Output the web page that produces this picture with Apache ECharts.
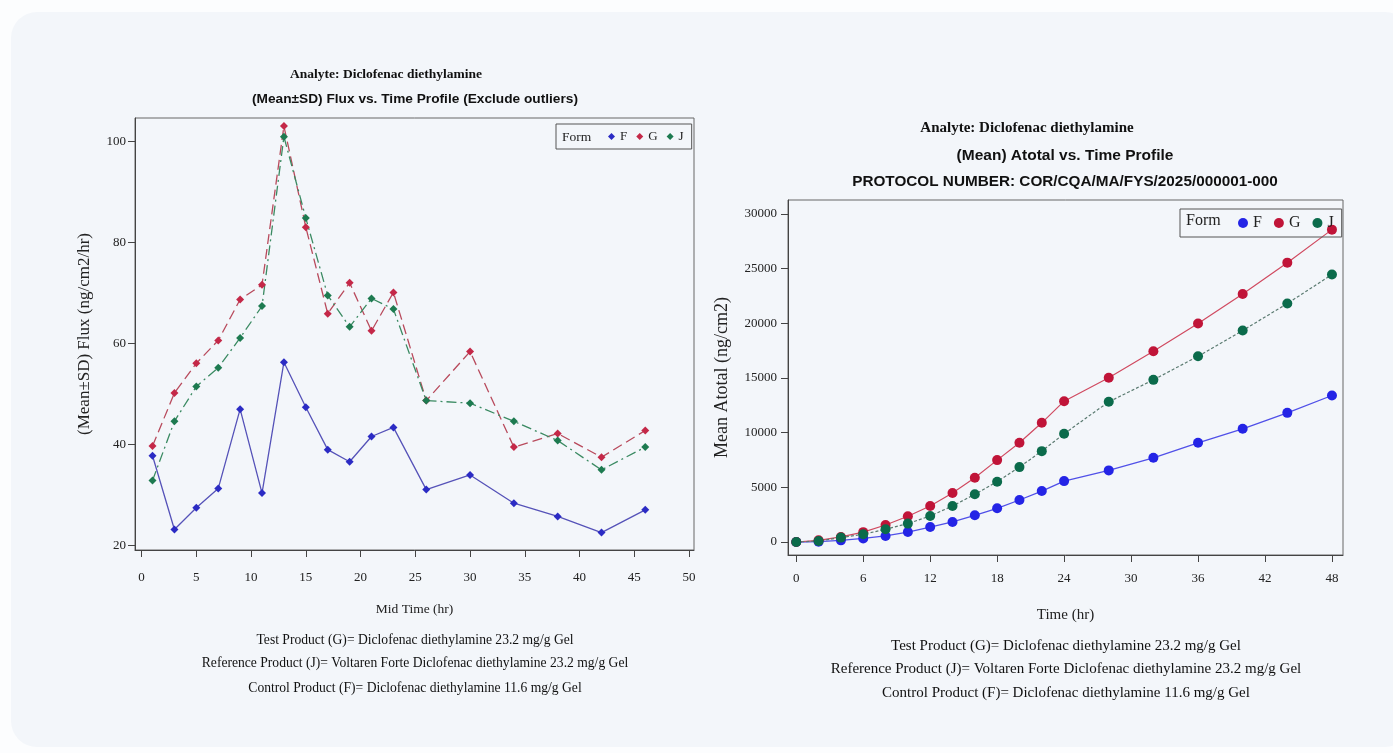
<!DOCTYPE html>
<html>
<head>
<meta charset="utf-8">
<script src="https://cdn.jsdelivr.net/npm/echarts@6/dist/echarts.min.js"></script>
<style>
  html, body { margin:0; padding:0; background:#fcfdfe; }
  #card { position:absolute; left:11px; top:12px; width:1400px; height:735px; background:#f3f6fa; border-radius:26px; }
  #chart { position:absolute; left:0; top:0; width:1393px; height:753px; }
</style>
</head>
<body>
<div id="card"></div>
<div id="chart"></div>
<script>
// ---- Left chart data: Flux vs Mid Time ----
const leftTime = [1,3,5,7,9,11,13,15,17,19,21,23,26,30,34,38,42,46];
const fluxF = [37.8,23.2,27.5,31.3,47.0,30.4,56.3,47.4,39.0,36.6,41.6,43.4,31.1,34.0,28.4,25.8,22.6,27.1];
const fluxG = [39.7,50.2,56.1,60.6,68.7,71.6,103.0,83.0,65.9,72.0,62.5,70.1,48.7,58.4,39.5,42.2,37.5,42.8];
const fluxJ = [32.9,44.6,51.5,55.2,61.1,67.4,100.9,84.8,69.5,63.3,68.9,66.8,48.7,48.2,44.6,40.8,35.0,39.5];
const leftXTicks = [0,5,10,15,20,25,30,35,40,45,50];
const leftYTicks = [20,40,60,80,100];

// ---- Right chart data: Mean Atotal vs Time ----
const rightTime = [0,2,4,6,8,10,12,14,16,18,20,22,24,28,32,36,40,44,48];
const atotalF = [0,30,150,330,550,910,1370,1830,2440,3080,3840,4660,5570,6550,7700,9070,10350,11810,13400];
const atotalG = [0,150,460,900,1550,2350,3290,4480,5880,7490,9080,10900,12880,15015,17450,19980,22690,25550,28570];
const atotalJ = [0,90,400,700,1160,1680,2380,3290,4360,5510,6850,8310,9900,12820,14830,16990,19340,21810,24460];
const rightXTicks = [0,6,12,18,24,30,36,42,48];
const rightYTicks = [0,5000,10000,15000,20000,25000,30000];

const footnotes = [
  'Test Product (G)= Diclofenac diethylamine 23.2 mg/g Gel',
  'Reference Product (J)= Voltaren Forte Diclofenac diethylamine 23.2 mg/g Gel',
  'Control Product (F)= Diclofenac diethylamine 11.6 mg/g Gel'
];

const serif = '"Liberation Serif", "Times New Roman", serif';
const narrow = '"Liberation Sans Narrow", "Liberation Sans", Arial, sans-serif';

const pair = (xs, ys) => xs.map((x, i) => [x, ys[i]]);

const chart = echarts.init(document.getElementById('chart'), null, {renderer: 'canvas'});

function titleLine(text, cx, top, size, family, weight) {
  return { text: text, left: cx, top: top, textAlign: 'center', padding: 0,
    textStyle: { fontFamily: family, fontSize: size, fontWeight: weight, color: '#111' } };
}

const titles = [
  titleLine('Analyte: Diclofenac diethylamine', 386, 68, 13.5, serif, 'bold'),
  titleLine('(Mean±SD) Flux vs. Time Profile (Exclude outliers)', 415, 92, 13.7, narrow, 'bold'),
  titleLine('Analyte: Diclofenac diethylamine', 1027, 121, 15, serif, 'bold'),
  titleLine('(Mean) Atotal vs. Time Profile', 1065, 148, 15.5, narrow, 'bold'),
  titleLine('PROTOCOL NUMBER: COR/CQA/MA/FYS/2025/000001-000', 1065, 174, 15.3, narrow, 'bold'),
  titleLine(footnotes[0], 415, 633, 13.6, serif, 'normal'),
  titleLine(footnotes[1], 415, 656, 13.6, serif, 'normal'),
  titleLine(footnotes[2], 415, 681, 13.6, serif, 'normal'),
  titleLine(footnotes[0], 1066, 639, 15, serif, 'normal'),
  titleLine(footnotes[1], 1066, 662, 15, serif, 'normal'),
  titleLine(footnotes[2], 1066, 686, 15, serif, 'normal')
];

const axisLineStyle = { show: true, onZero: false, lineStyle: { color: '#444', width: 1 } };
const tickStyle = (vals) => ({ show: true, inside: false, length: 7, lineStyle: { color: '#444' }, customValues: vals });
const labelStyle = (vals, margin) => ({ customValues: vals, margin: margin, fontFamily: serif, fontSize: 13, color: '#222',
  formatter: v => String(v) });

const option = {
  animation: false,
  backgroundColor: 'transparent',
  title: titles,
  grid: [
    { left: 135, top: 118, width: 559, height: 432, show: true, borderColor: '#666', borderWidth: 1, backgroundColor: 'transparent' },
    { left: 788, top: 200, width: 555, height: 355, show: true, borderColor: '#666', borderWidth: 1, backgroundColor: 'transparent' }
  ],
  legend: [
    { left: 556, top: 124, padding: [6, 8, 6, 52], icon: 'diamond', itemWidth: 7, itemHeight: 7, itemGap: 9,
      borderColor: '#555', borderWidth: 1, backgroundColor: 'transparent',
      textStyle: { fontFamily: serif, fontSize: 13, color: '#222' },
      data: [
        { name: 'F', itemStyle: { color: '#2b2bc4' } },
        { name: 'G', itemStyle: { color: '#c42848' } },
        { name: 'J', itemStyle: { color: '#1d7a50' } }
      ] },
    { left: 1180, top: 209, padding: [6, 8, 6, 58], icon: 'circle', itemWidth: 10, itemHeight: 10, itemGap: 12,
      borderColor: '#555', borderWidth: 1, backgroundColor: 'transparent',
      formatter: n => n.trim(),
      textStyle: { fontFamily: serif, fontSize: 16, color: '#222' },
      data: [
        { name: 'F ', itemStyle: { color: '#2424e6' } },
        { name: 'G ', itemStyle: { color: '#c01438' } },
        { name: 'J ', itemStyle: { color: '#0b6b4b' } }
      ] }
  ],
  graphic: [
    { type: 'text', left: 562, top: 130, style: { text: 'Form', fontFamily: serif, fontSize: 13.5, fill: '#222' } },
    { type: 'text', left: 1186, top: 213, style: { text: 'Form', fontFamily: serif, fontSize: 16, fill: '#222' } }
  ],
  xAxis: [
    {
      gridIndex: 0, type: 'value', min: -0.6, max: 50.45, splitLine: { show: false },
      name: 'Mid Time (hr)', nameLocation: 'middle', nameGap: 52,
      nameTextStyle: { fontFamily: serif, fontSize: 13.5, color: '#222' },
      axisLine: axisLineStyle, axisTick: tickStyle(leftXTicks), axisLabel: labelStyle(leftXTicks, 21)
    },
    {
      gridIndex: 1, type: 'value', min: -0.74, max: 48.99, splitLine: { show: false },
      name: 'Time (hr)', nameLocation: 'middle', nameGap: 53,
      nameTextStyle: { fontFamily: serif, fontSize: 15, color: '#222' },
      axisLine: axisLineStyle, axisTick: tickStyle(rightXTicks), axisLabel: labelStyle(rightXTicks, 17)
    }
  ],
  yAxis: [
    {
      gridIndex: 0, type: 'value', min: 19.15, max: 104.6, splitLine: { show: false },
      name: '(Mean±SD) Flux (ng/cm2/hr)', nameLocation: 'middle', nameGap: 42, nameRotate: 90,
      nameTextStyle: { fontFamily: serif, fontSize: 17, color: '#222' },
      axisLine: axisLineStyle, axisTick: tickStyle(leftYTicks), axisLabel: labelStyle(leftYTicks, 9)
    },
    {
      gridIndex: 1, type: 'value', min: -1190, max: 31280, splitLine: { show: false },
      name: 'Mean Atotal (ng/cm2)', nameLocation: 'middle', nameGap: 57, nameRotate: 90,
      nameTextStyle: { fontFamily: serif, fontSize: 18, color: '#222' },
      axisLine: axisLineStyle, axisTick: tickStyle(rightYTicks), axisLabel: labelStyle(rightYTicks, 11)
    }
  ],
  series: [
    { name: 'F', type: 'line', xAxisIndex: 0, yAxisIndex: 0, data: pair(leftTime, fluxF),
      symbol: 'diamond', symbolSize: 8,
      itemStyle: { color: '#2b2bc4' }, lineStyle: { color: '#5552b8', width: 1.3, type: 'solid' } },
    { name: 'G', type: 'line', xAxisIndex: 0, yAxisIndex: 0, data: pair(leftTime, fluxG),
      symbol: 'diamond', symbolSize: 8,
      itemStyle: { color: '#c42848' }, lineStyle: { color: '#b84a5c', width: 1.3, type: [10, 5] } },
    { name: 'J', type: 'line', xAxisIndex: 0, yAxisIndex: 0, data: pair(leftTime, fluxJ),
      symbol: 'diamond', symbolSize: 8,
      itemStyle: { color: '#1d7a50' }, lineStyle: { color: '#3a8a62', width: 1.3, type: [10, 4, 2, 4] } },
    { name: 'F ', type: 'line', xAxisIndex: 1, yAxisIndex: 1, data: pair(rightTime, atotalF),
      symbol: 'circle', symbolSize: 10,
      itemStyle: { color: '#2424e6' }, lineStyle: { color: '#5050e8', width: 1.3, type: 'solid' } },
    { name: 'G ', type: 'line', xAxisIndex: 1, yAxisIndex: 1, data: pair(rightTime, atotalG),
      symbol: 'circle', symbolSize: 10,
      itemStyle: { color: '#c01438' }, lineStyle: { color: '#d04a60', width: 1.2, type: 'solid' } },
    { name: 'J ', type: 'line', xAxisIndex: 1, yAxisIndex: 1, data: pair(rightTime, atotalJ),
      symbol: 'circle', symbolSize: 10,
      itemStyle: { color: '#0b6b4b' }, lineStyle: { color: '#5a7a70', width: 1.2, type: [3, 2] } }
  ]
};

chart.setOption(option);
</script>
</body>
</html>
